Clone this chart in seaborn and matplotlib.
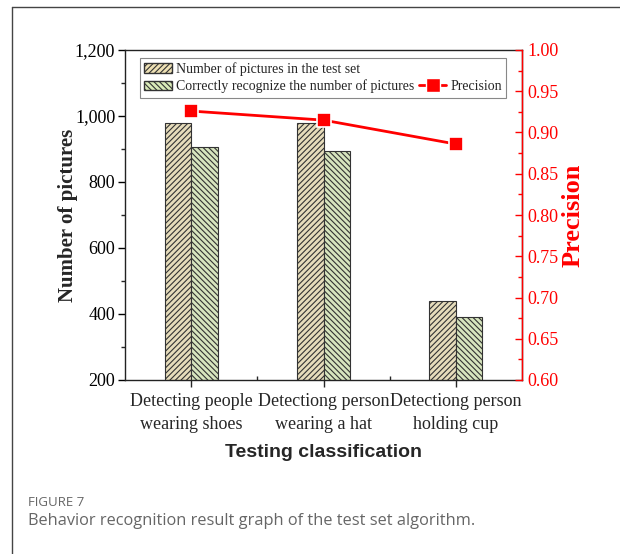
import numpy as np
import pandas as pd
import matplotlib
matplotlib.use("Agg")
import matplotlib.pyplot as plt
import seaborn as sns
from matplotlib.patches import Patch
from matplotlib.lines import Line2D
from matplotlib.ticker import MultipleLocator, FuncFormatter

categories = ["Detecting people\nwearing shoes", "Detectiong person\nwearing a hat", "Detectiong person\nholding cup"]
series_names = ["Number of pictures in the test set", "Correctly recognize the number of pictures"]
total_pictures = [980, 980, 440]
correct_pictures = [905, 895, 390]
precision = [0.926, 0.915, 0.886]

sns.set_style("ticks")
plt.rcParams["font.family"] = ["Liberation Serif", "DejaVu Serif"]
plt.rcParams["hatch.linewidth"] = 0.8

df = pd.DataFrame({
    "category": categories * 2,
    "series": [series_names[0]] * 3 + [series_names[1]] * 3,
    "value": total_pictures + correct_pictures,
})

fig = plt.figure(figsize=(6.2, 5.54), dpi=100)
ax = fig.add_axes([125/620, 1-380/554, 397/620, 330/554])

face_colors = ["#EDE0B4", "#D9EBB8"]
hatches = ["//////", "\\\\\\\\\\\\"]
sns.barplot(data=df, x="category", y="value", hue="series", order=categories,
            hue_order=series_names, palette=face_colors, width=0.4, gap=0,
            edgecolor="#333333", linewidth=0.8, legend=False, ax=ax)
for i, bar in enumerate(ax.patches):
    s = i // len(categories)
    bar.set_hatch(hatches[s])
    bar.set_edgecolor("#333333")

ax.set_xlim(-0.5, 2.5)
ax.set_ylim(200, 1200)
ax.yaxis.set_major_locator(MultipleLocator(200))
ax.yaxis.set_minor_locator(MultipleLocator(100))
ax.yaxis.set_major_formatter(FuncFormatter(lambda v, p: f"{int(v):,}"))
ax.set_xticks(range(len(categories)))
ax.set_xticklabels(categories, fontsize=13, linespacing=1.5)
ax.set_xticks([0.5, 1.5], minor=True)
ax.tick_params(axis="y", which="major", direction="out", length=5, width=1, labelsize=13, colors="black", pad=2)
ax.tick_params(axis="y", which="minor", direction="out", length=3, width=1)
ax.tick_params(axis="x", which="major", direction="out", length=5, width=1, pad=4)
ax.tick_params(axis="x", which="minor", direction="in", length=3, width=1)
for sp in ax.spines.values():
    sp.set_linewidth(1.0)
    sp.set_color("#222222")
ax.set_ylabel("Number of pictures", fontsize=15, fontweight="bold", labelpad=-2)
ax.set_xlabel("Testing classification", fontsize=14, fontweight="bold",
              family=["Liberation Sans", "DejaVu Sans"], labelpad=8)

ax2 = ax.twinx()
sns.lineplot(x=np.arange(len(categories)), y=precision, color="#FF0000", linewidth=2,
             marker="s", markersize=10.5, markeredgecolor="white", markeredgewidth=1.2,
             markerfacecolor="#FF0000", ax=ax2)
ax2.set_ylim(0.60, 1.00)
ax2.yaxis.set_major_locator(MultipleLocator(0.05))
ax2.yaxis.set_minor_locator(MultipleLocator(0.025))
ax2.yaxis.set_major_formatter(FuncFormatter(lambda v, p: f"{v:.2f}"))
ax2.tick_params(axis="y", which="major", direction="in", length=5, width=1, colors="#FF0000", labelsize=13, pad=4)
ax2.tick_params(axis="y", which="minor", direction="in", length=3, width=1, colors="#FF0000")
ax2.spines["right"].set_color("#FF0000")
ax2.spines["right"].set_linewidth(1.0)
for k in ["left", "top", "bottom"]:
    ax2.spines[k].set_visible(False)
ax2.set_ylabel("Precision", fontsize=19, fontweight="bold", color="#FF0000", labelpad=2)

h1 = Patch(facecolor=face_colors[0], edgecolor="#333333", hatch=hatches[0], label=series_names[0])
h2 = Patch(facecolor=face_colors[1], edgecolor="#333333", hatch=hatches[1], label=series_names[1])
hdummy = Patch(facecolor="none", edgecolor="none", label="")
h3 = Line2D([], [], color="#FF0000", linewidth=2, marker="s", markersize=10,
            markeredgecolor="white", markeredgewidth=1, label="Precision")
leg = ax2.legend(handles=[h1, h2, hdummy, h3], ncol=2, loc="upper left",
                 bbox_to_anchor=(0.038, 0.975), fontsize=10, frameon=True, fancybox=False,
                 edgecolor="#888888", framealpha=1, borderpad=0.3, labelspacing=0.25,
                 handlelength=2.0, handletextpad=0.3, columnspacing=0.3, borderaxespad=0)
leg.get_frame().set_linewidth(0.8)

fig.add_artist(Line2D([12/620, 12/620], [0, 1-7/554], color="#444444", linewidth=1.0))
fig.add_artist(Line2D([12/620, 1], [1-7/554, 1-7/554], color="#444444", linewidth=1.0))
fig.text(28/620, 1-503/554, "FIGURE 7", fontsize=9.5, color="#666666",
         family=["Open Sans", "DejaVu Sans"], va="center", ha="left")
fig.text(28/620, 1-521/554, "Behavior recognition result graph of the test set algorithm.",
         fontsize=11.8, color="#666666", family=["Open Sans", "DejaVu Sans"], va="center", ha="left")

fig.savefig("out.png", dpi=100)
